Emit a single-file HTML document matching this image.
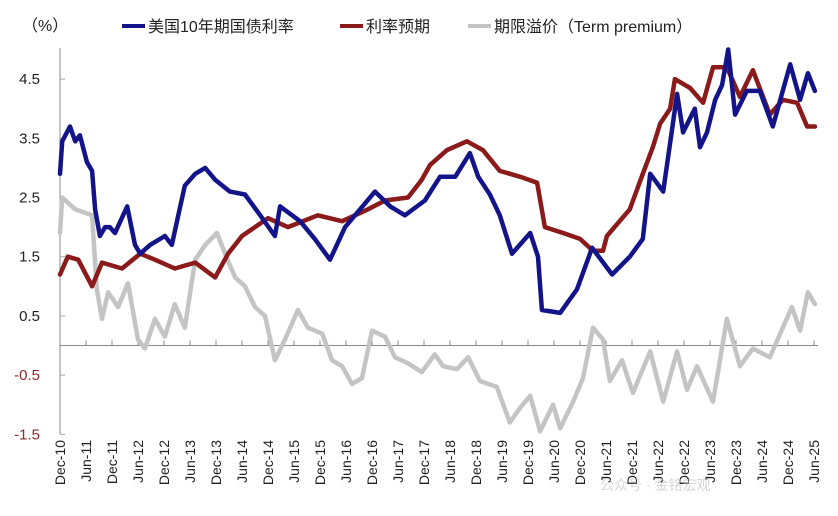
<!DOCTYPE html>
<html><head><meta charset="utf-8"><style>
html,body{margin:0;padding:0;background:#fff;}
svg{display:block;font-family:"Liberation Sans","Noto Sans CJK SC",sans-serif;}
</style></head><body>
<svg id="chart" width="838" height="516" viewBox="0 0 838 516">
<text x="22" y="31" font-size="16" fill="#222">（%）</text>
<g>
<g><line x1="122" y1="26" x2="145" y2="26" stroke="#14148a" stroke-width="4"/><text x="148" y="32" font-size="16" fill="#222">美国10年期国债利率</text></g>
<g><line x1="340" y1="26" x2="363" y2="26" stroke="#8b1a1a" stroke-width="4"/><text x="366" y="32" font-size="16" fill="#222">利率预期</text></g>
<g><line x1="468" y1="26" x2="491" y2="26" stroke="#c4c4c4" stroke-width="4"/><text x="494" y="32" font-size="16" fill="#222">期限溢价（Term premium）</text></g>
</g>
<g id="axes"></g>
<g id="series"></g>
<text x="600" y="490" font-size="14" fill="#bbb" opacity="0.6">公众号 · 金铭宏观</text>
</svg>
<script>
const xLabels=["Dec-10","Jun-11","Dec-11","Jun-12","Dec-12","Jun-13","Dec-13","Jun-14","Dec-14","Jun-15","Dec-15","Jun-16","Dec-16","Jun-17","Dec-17","Jun-18","Dec-18","Jun-19","Dec-19","Jun-20","Dec-20","Jun-21","Dec-21","Jun-22","Dec-22","Jun-23","Dec-23","Jun-24","Dec-24","Jun-25"];
const yTicks=[4.5,3.5,2.5,1.5,0.5,-0.5,-1.5];
const yieldMonths=[0,0.5,2.3,3.5,4.6,6.2,7.4,8.1,9.2,10.4,11.5,12.7,15.5,17.3,18.5,20.8,24.2,25.8,28.8,31.2,33.5,35.8,39.2,42.7,46.2,49.6,50.8,55.4,58.8,62.3,65.8,72.7,76.2,79.6,84.2,87.7,91.2,94.6,96.5,99.2,101.5,104.3,108.5,110.3,111.2,115.4,119.3,122.8,127.4,131.5,134.5,136.2,139.2,142.4,143.8,146.5,147.7,149.3,151.2,152.8,154.2,155.8,158.5,161.5,164.5,168.5,170.8,172.6,174.2];
const yieldValues=[2.9,3.45,3.7,3.45,3.55,3.1,2.95,2.3,1.85,2.0,2.0,1.9,2.35,1.7,1.55,1.7,1.85,1.7,2.7,2.9,3.0,2.8,2.6,2.55,2.2,1.85,2.35,2.1,1.8,1.45,2.0,2.6,2.35,2.2,2.45,2.85,2.85,3.25,2.85,2.55,2.2,1.55,1.9,1.5,0.6,0.55,0.95,1.65,1.2,1.5,1.8,2.9,2.6,4.25,3.6,4.0,3.35,3.6,4.15,4.4,5.0,3.9,4.3,4.3,3.7,4.75,4.15,4.6,4.3];
const expMonths=[0,1.8,4.2,7.4,9.7,14.3,18.5,21.9,26.5,31.2,35.8,38.8,42,48,52.6,59.5,65.1,71.1,75,80.3,83.5,85.4,89.3,93.9,97.6,101.5,106.2,110.1,111.9,116.1,120,123,125.3,126.2,131.5,134.5,136.8,138.5,140.8,141.9,145.4,148.4,150.7,153.9,156.9,159.9,163.8,166.8,170.1,172.4,174.2];
const expValues=[1.2,1.5,1.45,1.0,1.4,1.3,1.55,1.45,1.3,1.4,1.15,1.55,1.85,2.15,2.0,2.2,2.1,2.3,2.45,2.5,2.8,3.05,3.3,3.45,3.3,2.95,2.85,2.75,2.0,1.9,1.8,1.6,1.6,1.85,2.3,2.9,3.35,3.75,4.0,4.5,4.35,4.1,4.7,4.7,4.2,4.65,3.9,4.15,4.1,3.7,3.7];
const tpMonths=[0,0.5,3.5,7.4,8.5,9.7,11.1,13.4,15.7,18,19.6,21.9,24.2,26.5,28.8,31.2,33.5,36.2,38.1,40.4,42.7,45,47.3,49.6,51.9,54.9,57.2,60.5,62.8,65.1,67.4,69.7,72,75,77.3,80.3,83.5,86.5,88.4,91.6,94.2,96.9,100.8,103.8,106.2,108.5,110.8,113.8,115.4,118.4,120.7,123,125.3,126.9,129.7,132.2,136.2,139.2,142.4,144.7,147,150.7,153.9,156.9,159.9,163.8,166.8,168.9,170.8,172.6,174.2];
const tpValues=[1.9,2.5,2.3,2.2,0.95,0.45,0.9,0.65,1.05,0.1,-0.05,0.45,0.15,0.7,0.3,1.45,1.7,1.9,1.55,1.15,1.0,0.65,0.5,-0.25,0.1,0.6,0.3,0.2,-0.25,-0.35,-0.65,-0.55,0.25,0.15,-0.2,-0.3,-0.45,-0.15,-0.35,-0.4,-0.2,-0.6,-0.7,-1.3,-1.05,-0.85,-1.45,-1.0,-1.4,-0.95,-0.55,0.3,0.1,-0.6,-0.25,-0.8,-0.1,-0.95,-0.1,-0.75,-0.35,-0.95,0.45,-0.35,-0.05,-0.2,0.3,0.65,0.25,0.9,0.7];

const NS="http://www.w3.org/2000/svg";
const X0=60, PX_PER_MONTH=26/6, Y0=345.5, PX_PER_UNIT=59.2;
function xScale(m){return X0+m*PX_PER_MONTH;}
function yScale(v){return Y0-v*PX_PER_UNIT;}
function mk(tag,attrs,parent){const e=document.createElementNS(NS,tag);for(const k in attrs)e.setAttribute(k,attrs[k]);parent.appendChild(e);return e;}
const axes=document.getElementById('axes'), series=document.getElementById('series');

const yAxis=mk('line',{x1:X0,y1:48,x2:X0,y2:yScale(-1.5),stroke:'#888','stroke-width':1},axes);


yTicks.forEach(v=>{
  const t=mk('line',{x1:X0,y1:yScale(v),x2:X0+5,y2:yScale(v),stroke:'#aaa','stroke-width':1},axes);
  
  
  const l=mk('text',{x:40,y:yScale(v)+5,'text-anchor':'end','font-size':15,fill:v<0?'#8b2a2a':'#222'},axes);
  l.textContent=String(v);
  
  
});
const zero=mk('line',{x1:X0,y1:Y0,x2:xScale(174)+4,y2:Y0,stroke:'#888','stroke-width':1},axes);


xLabels.forEach((lab,i)=>{
  const x=xScale(i*6);
  const t=mk('line',{x1:x,y1:Y0-5,x2:x,y2:Y0,stroke:'#888','stroke-width':1},axes);
  
  
  const l=mk('text',{x:0,y:0,'text-anchor':'end','font-size':14,fill:'#222',transform:`translate(${x+5},${440}) rotate(-90)`},axes);
  l.textContent=lab;
  
  
});
function drawLine(ms,vs,color,name){
  const d=ms.map((m,i)=>(i?'L':'M')+xScale(m).toFixed(1)+','+yScale(vs[i]).toFixed(1)).join('');
  const p=mk('path',{d:d,fill:'none',stroke:color,'stroke-width':4.5,'stroke-linejoin':'round','stroke-linecap':'round'},series);
  
  
}
drawLine(tpMonths,tpValues,'#c4c4c4','term-premium-line');
drawLine(expMonths,expValues,'#8b1a1a','rate-expectation-line');
drawLine(yieldMonths,yieldValues,'#14148a','us-10y-yield-line');
</script>
</body></html>
